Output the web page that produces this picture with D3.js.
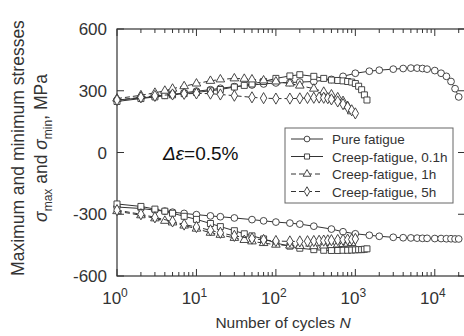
<!DOCTYPE html>
<html>
<head>
<meta charset="utf-8">
<script src="https://cdn.jsdelivr.net/npm/d3@7"></script>
<style>
  body { margin: 0; background: #fff; }
  svg { display: block; font-family: "Liberation Sans", Arial, sans-serif; }
</style>
</head>
<body>
<svg width="464" height="336"></svg>
<script>
// cycles and stresses
let pureN = [1,2,3,4,5,7,10,15,20,30,50,70,100,150,200,300,500,700,1000,1500,2000,3000,4000,5000,6000,7000,8000,10000,12000,14000,16000,18000,20000];
let pureMax = [255,265,272,278,282,290,298,305,312,320,328,333,338,340,342,345,355,370,385,395,400,405,408,410,410,408,405,398,385,370,345,310,270];
let pureMin = [-265,-272,-280,-285,-290,-296,-302,-308,-312,-318,-326,-332,-338,-343,-348,-358,-372,-385,-395,-402,-407,-412,-414,-415,-416,-417,-417,-418,-418,-419,-419,-420,-420];

let cf01N = [1,2,3,4,5,7,10,15,20,30,40,50,70,100,150,200,300,400,500,600,700,800,900,1000,1100,1200,1300,1400];
let cf01Max = [248,262,270,276,280,286,292,300,306,318,326,333,345,360,372,378,370,360,352,350,348,345,342,335,322,305,280,255];
let cf01Min = [-250,-262,-275,-285,-295,-310,-325,-345,-360,-380,-395,-405,-420,-440,-455,-465,-472,-475,-476,-476,-475,-475,-474,-473,-472,-472,-470,-468];

let cf1N = [1,2,3,4,5,7,10,15,20,30,40,50,70,100,150,200,300,400,500,600,700,800,900];
let cf1Max = [262,278,290,300,310,322,335,348,355,360,358,355,350,345,335,325,310,295,282,268,250,225,200];
let cf1Min = [-285,-305,-320,-332,-340,-355,-370,-390,-400,-415,-425,-432,-440,-448,-452,-454,-455,-452,-450,-447,-445,-443,-440];

let cf5N = [1,2,3,5,7,10,15,20,30,50,70,100,150,200,250,300,350,400,450,500,600,700,800,900,1000];
let cf5Max = [255,268,275,282,285,287,286,282,276,268,264,262,262,263,265,266,267,266,264,258,248,235,220,205,190];
let cf5Min = [-280,-300,-315,-335,-350,-362,-378,-390,-405,-418,-425,-430,-432,-432,-431,-430,-429,-428,-427,-426,-425,-424,-423,-422,-420];

let seriesNames = ["Pure fatigue", "Creep-fatigue, 0.1h", "Creep-fatigue, 1h", "Creep-fatigue, 5h"];
let yTicks = [600, 300, 0, -300, -600];
let xTicks = [1, 10, 100, 1000, 10000];

let series = [
  {name: seriesNames[0], n: pureN, max: pureMax, min: pureMin, sym: d3.symbolCircle, dash: null},
  {name: seriesNames[1], n: cf01N, max: cf01Max, min: cf01Min, sym: d3.symbolSquare, dash: null},
  {name: seriesNames[2], n: cf1N, max: cf1Max, min: cf1Min, sym: d3.symbolTriangle, dash: "5,3"},
  {name: seriesNames[3], n: cf5N, max: cf5Max, min: cf5Min, sym: d3.symbolDiamond, dash: "5,3"}
];

let svg = d3.select("svg");
let ink = "#333";
let margin = {top: 29, right: -1, bottom: 60, left: 117};
let width = 464, height = 336;

let x = d3.scaleLog()
  .domain([1, 24000])
  .range([margin.left, width - margin.right]);

let y = d3.scaleLinear()
  .domain([-600, 600])
  .range([height - margin.bottom, margin.top]);

// frame
svg.append("rect")
  .attr("x", x.range()[0]).attr("y", margin.top)
  .attr("width", x.range()[1] - x.range()[0])
  .attr("height", y(-600) - y(600))
  .attr("fill", "none").attr("stroke", ink).attr("stroke-width", 1.2);

// inward ticks
let minor = [];
for (let e = 0; e < 5; e++) for (let k = 2; k <= 9; k++) {
  let v = k * Math.pow(10, e);
  if (v < x.domain()[1]) minor.push(v);
}
let tickG = svg.append("g").attr("stroke", ink).attr("stroke-width", 1);
[y(600), y(-600)].forEach((yy, i) => {
  let dir = i === 0 ? 1 : -1;
  tickG.selectAll(null).data(xTicks).enter().append("line")
    .attr("x1", d => x(d)).attr("x2", d => x(d))
    .attr("y1", yy).attr("y2", yy + dir * 7);
  tickG.selectAll(null).data(minor).enter().append("line")
    .attr("x1", d => x(d)).attr("x2", d => x(d))
    .attr("y1", yy).attr("y2", yy + dir * 4);
});
[x.range()[0], x.range()[1]].forEach((xx, i) => {
  let dir = i === 0 ? 1 : -1;
  tickG.selectAll(null).data(yTicks).enter().append("line")
    .attr("x1", xx).attr("x2", xx + dir * 7)
    .attr("y1", d => y(d)).attr("y2", d => y(d));
});

// tick labels
svg.append("g").selectAll("text").data(yTicks).enter().append("text")
  .attr("x", margin.left - 10).attr("y", d => y(d) + 6)
  .attr("text-anchor", "end").attr("font-size", 17).attr("fill", ink)
  .text(d => d);

let xl = svg.append("g").selectAll("text").data(xTicks).enter().append("text")
  .attr("x", d => x(d) - 2).attr("y", 304)
  .attr("text-anchor", "middle").attr("font-size", 17).attr("fill", ink);
xl.append("tspan").text("10");
xl.append("tspan").attr("dy", -7).attr("font-size", 12).text(d => Math.round(Math.log10(d)));

// axis titles
svg.append("text")
  .attr("x", 283).attr("y", 328)
  .attr("text-anchor", "middle").attr("font-size", 15.5).attr("fill", ink)
  .html('Number of cycles <tspan font-style="italic">N</tspan>');

svg.append("text")
  .attr("transform", "translate(24,148) rotate(-90)")
  .attr("text-anchor", "middle").attr("font-size", 17.5).attr("fill", ink)
  .text("Maximum and minimum stresses");

let yt2 = svg.append("text")
  .attr("transform", "translate(47,148) rotate(-90)")
  .attr("text-anchor", "middle").attr("font-size", 17.5).attr("fill", ink);
yt2.append("tspan").attr("font-style", "italic").text("σ");
yt2.append("tspan").attr("font-size", 12).attr("dy", 5).text("max");
yt2.append("tspan").attr("dy", -5).text(" and ");
yt2.append("tspan").attr("font-style", "italic").text("σ");
yt2.append("tspan").attr("font-size", 12).attr("dy", 5).text("min");
yt2.append("tspan").attr("dy", -5).text(", MPa");

// annotation
let ann = svg.append("text")
  .attr("x", 163).attr("y", 160).attr("font-size", 19).attr("fill", "#111");
ann.append("tspan").attr("font-style", "italic").text("Δε");
ann.append("tspan").text("=0.5%");

// data lines and markers
let line = d3.line().x(d => x(d[0])).y(d => y(d[1]));
let plot = svg.append("g");
series.forEach(s => {
  ["max", "min"].forEach(k => {
    let pts = s.n.map((n, i) => [n, s[k][i]]);
    plot.append("path")
      .attr("d", line(pts))
      .attr("fill", "none").attr("stroke", ink).attr("stroke-width", 1)
      .attr("stroke-dasharray", s.dash);
    plot.selectAll(null).data(pts).enter().append("path")
      .attr("transform", d => `translate(${x(d[0])},${y(d[1])})`)
      .attr("d", d3.symbol().type(s.sym).size(s.sym === d3.symbolTriangle ? 32 : 36))
      .attr("fill", "#fff").attr("stroke", ink).attr("stroke-width", 0.9);
  });
});

// legend
let lg = svg.append("g");
lg.append("rect")
  .attr("x", 285).attr("y", 128).attr("width", 168).attr("height", 75)
  .attr("fill", "#fff").attr("stroke", "#666").attr("stroke-width", 1);
series.forEach((s, i) => {
  let yy = 139 + i * 17.5;
  lg.append("line")
    .attr("x1", 291).attr("x2", 323).attr("y1", yy).attr("y2", yy)
    .attr("stroke", ink).attr("stroke-width", 1).attr("stroke-dasharray", s.dash);
  lg.append("path")
    .attr("transform", `translate(307,${yy})`)
    .attr("d", d3.symbol().type(s.sym).size(26))
    .attr("fill", "#fff").attr("stroke", ink).attr("stroke-width", 0.9);
  lg.append("text")
    .attr("x", 332).attr("y", yy + 5)
    .attr("font-size", 13.5).attr("fill", ink)
    .text(s.name);
});
</script>
</body>
</html>
